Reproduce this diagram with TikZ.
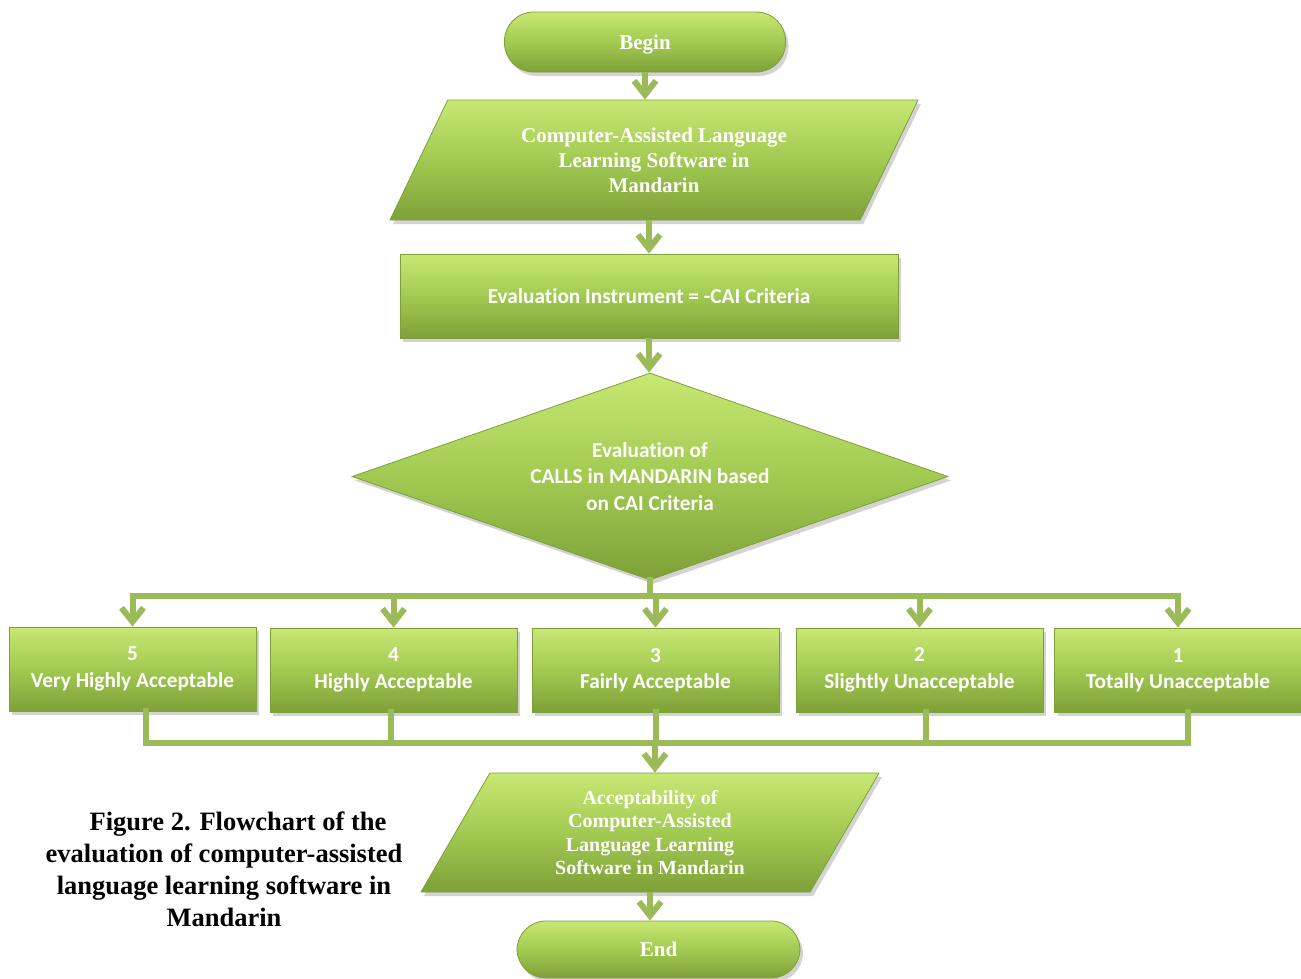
\documentclass[tikz,border=0pt]{standalone}
\usepackage{fontspec}
\setmainfont{Liberation Serif}
\newfontfamily\calibri[Ligatures=NoCommon]{Carlito}
\usepackage{tikz}
\usetikzlibrary{shapes.geometric}
\usetikzlibrary{shadows}
\usetikzlibrary{arrows.meta}
\usepackage{xcolor}

\definecolor{leafgreen}{RGB}{162,202,82}
\definecolor{leaflight}{RGB}{200,232,116}
\definecolor{leafdark}{RGB}{126,160,56}
\definecolor{arrowgreen}{RGB}{155,187,89}

\tikzset{
  bevel/.style={draw=leafdark, line width=0.8pt, top color=leaflight, bottom color=leafdark, middle color=leafgreen,
    drop shadow={shadow xshift=3pt, shadow yshift=-4pt, opacity=0.35}, text=white, align=center, inner sep=2pt},
  terminal/.style={bevel, rounded corners=29pt, minimum width=281, minimum height=60, text depth=0pt,
    font=\fontsize{21}{25}\selectfont\bfseries},
  inout/.style={bevel, trapezium, trapezium stretches body, font=\bfseries},
  plainbox/.style={bevel, rectangle, font=\calibri\bfseries\fontsize{21.3}{26.5}\selectfont},
  scorebox/.style={plainbox, minimum width=247, minimum height=84},
  flow/.style={draw=arrowgreen, line width=6pt, -{Straight Barb[length=14pt,width=22pt]}},
  link/.style={draw=arrowgreen, line width=6pt, line cap=rect}
}

\begin{document}
\begin{tikzpicture}[x=1pt,y=-1pt]
\useasboundingbox (0,0) rectangle (1301,978);

\node (begin) [terminal] at (645,42) {Begin};
\node (in1) [inout, trapezium left angle=50, trapezium right angle=130, minimum width=528, minimum height=120,
  font=\fontsize{21}{25}\selectfont\bfseries] at (654,160) {Computer-Assisted Language\\Learning Software in\\Mandarin};
\node (instr) [plainbox, minimum width=498, minimum height=84] at (649,296) {Evaluation Instrument = -CAI Criteria};
\node (eval) [plainbox, diamond, shape aspect=2.9, minimum width=596, minimum height=207, inner sep=0pt] at (650,476.5)
  {Evaluation of\\CALLS in MANDARIN based\\on CAI Criteria};

\node (b5) [scorebox] at (132.5,669) {5\\Very Highly Acceptable};
\node (b4) [scorebox] at (393.5,670) {4\\Highly Acceptable};
\node (b3) [scorebox] at (655.5,670) {3\\Fairly Acceptable};
\node (b2) [scorebox] at (919.5,670) {2\\Slightly Unacceptable};
\node (b1) [scorebox] at (1178,670) {1\\Totally Unacceptable};

\node (out) [inout, trapezium left angle=52, trapezium right angle=128, minimum width=458, minimum height=119,
  font=\fontsize{20}{23.3}\selectfont\bfseries] at (650,832.5) {Acceptability of\\Computer-Assisted\\Language Learning\\Software in Mandarin};
\node (end) [terminal, minimum width=283, minimum height=57] at (658.5,949.5) {End};

\node (caption) [align=center, font=\fontsize{26.5}{32}\selectfont\bfseries] at (224,869)
  {\hspace*{28pt}Figure 2. Flowchart of the\\evaluation of computer-assisted\\language learning software in\\Mandarin};

\coordinate (split) at (650,596);
\coordinate (merge) at (655,743);

\draw [flow] (begin.south) -- (begin.south |- in1.north);
\draw [flow] (instr.north |- in1.south) -- (instr.north);
\draw [flow] (instr.south) -- (instr.south |- eval.north);

% branch to the five ratings
\draw [link] (eval.south) -- (split);
\draw [link] (b5.north |- split) -- (b1.north |- split);
\draw [flow] (b5.north |- split) -- (b5.north);
\draw [flow] (b4.north |- split) -- (b4.north);
\draw [flow] (b3.north |- split) -- (b3.north);
\draw [flow] (b2.north |- split) -- (b2.north);
\draw [flow] (b1.north |- split) -- (b1.north);

\draw [link] ([xshift=13pt]b5.south) -- ([xshift=13pt]b5.south |- merge);
\draw [link] ([xshift=-3pt]b4.south) -- ([xshift=-3pt]b4.south |- merge);
\draw [link] (b3.south) -- (b3.south |- merge);
\draw [link] ([xshift=6pt]b2.south) -- ([xshift=6pt]b2.south |- merge);
\draw [link] ([xshift=10pt]b1.south) -- ([xshift=10pt]b1.south |- merge);
\draw [link] ([xshift=13pt]b5.south |- merge) -- ([xshift=10pt]b1.south |- merge);
\draw [flow] (merge) -- (merge |- out.north);

\draw [flow] (out.south) -- (out.south |- end.north);

\end{tikzpicture}
\end{document}
